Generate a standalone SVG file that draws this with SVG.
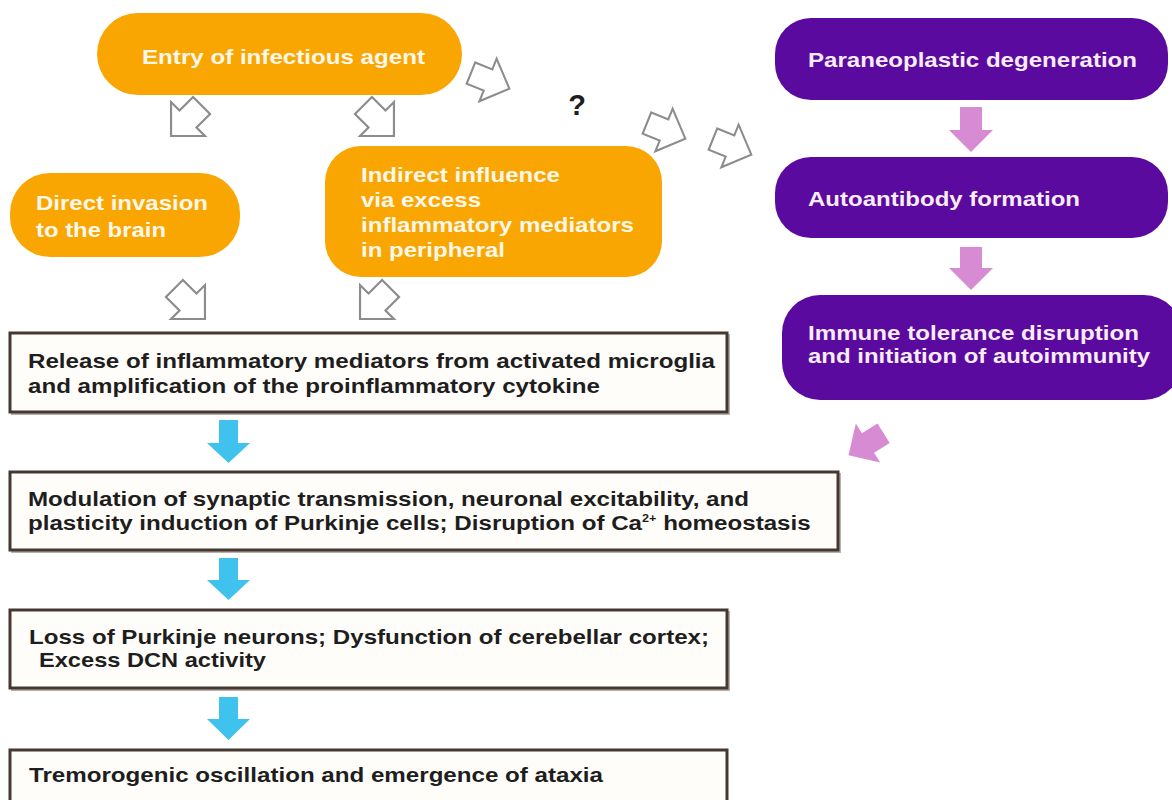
<svg xmlns="http://www.w3.org/2000/svg" xmlns:xlink="http://www.w3.org/1999/xlink" width="1172" height="800" viewBox="0 0 1172 800">
<style>
.t{font-family:"Liberation Sans",Arial,sans-serif;font-weight:bold;font-size:21px}
.q{font-family:"Liberation Sans",Arial,sans-serif;font-weight:bold;font-size:29px;fill:#1e1e1e}
.ow{fill:#fff8ea}
.pw{fill:#f8ecf8}
.dk{fill:#1e1e1e}
.orange{fill:#f9a602}
.purple{fill:#5a0a9e}
.box{fill:#fffdfa;stroke:#453830;stroke-width:3}
.shadow{fill:none;stroke:#b8b0aa;stroke-width:2}
.hollow{fill:#ffffff;stroke:#8c8c8c;stroke-width:1.8;stroke-linejoin:miter}
.pink{fill:#d68bd3}
.blue{fill:#3fc3ee}
</style>
<defs>
<path id="ha" d="M-16,-10 L0,-10 L0,-20 L20,0 L0,20 L0,10 L-16,10 Z"/>
</defs>
<rect width="1172" height="800" fill="#ffffff"/>

<g id="entry">
<rect class="orange" x="97" y="13" width="365" height="82" rx="41"/>
<text class="t ow" x="142" y="64" textLength="283" lengthAdjust="spacingAndGlyphs">Entry of infectious agent</text>
</g>

<g id="direct">
<rect class="orange" x="10" y="173" width="230" height="84" rx="40"/>
<text class="t ow" x="36" y="210" textLength="172" lengthAdjust="spacingAndGlyphs">Direct invasion</text>
<text class="t ow" x="36" y="237" textLength="130" lengthAdjust="spacingAndGlyphs">to the brain</text>
</g>

<g id="indirect">
<rect class="orange" x="325" y="146" width="337" height="131" rx="36"/>
<text class="t ow" x="361" y="182" textLength="199" lengthAdjust="spacingAndGlyphs">Indirect influence</text>
<text class="t ow" x="361" y="207" textLength="120" lengthAdjust="spacingAndGlyphs">via excess</text>
<text class="t ow" x="361" y="232" textLength="273" lengthAdjust="spacingAndGlyphs">inflammatory mediators</text>
<text class="t ow" x="361" y="257" textLength="144" lengthAdjust="spacingAndGlyphs">in peripheral</text>
</g>

<g id="paraneoplastic">
<rect class="purple" x="775" y="18" width="393" height="82" rx="36"/>
<text class="t pw" x="808" y="67" textLength="329" lengthAdjust="spacingAndGlyphs">Paraneoplastic degeneration</text>
</g>

<g id="autoantibody">
<rect class="purple" x="775" y="157" width="393" height="81" rx="36"/>
<text class="t pw" x="808" y="206" textLength="272" lengthAdjust="spacingAndGlyphs">Autoantibody formation</text>
</g>

<g id="immune">
<rect class="purple" x="782" y="295" width="400" height="105" rx="38"/>
<text class="t pw" x="808" y="340" textLength="331" lengthAdjust="spacingAndGlyphs">Immune tolerance disruption</text>
<text class="t pw" x="808" y="363" textLength="342" lengthAdjust="spacingAndGlyphs">and initiation of autoimmunity</text>
</g>

<g id="release">
<rect class="shadow" x="12" y="335" width="717" height="79"/>
<rect class="box" x="10" y="333" width="717" height="79"/>
<text class="t dk" x="28" y="368" textLength="687" lengthAdjust="spacingAndGlyphs">Release of inflammatory mediators from activated microglia</text>
<text class="t dk" x="28" y="393" textLength="572" lengthAdjust="spacingAndGlyphs">and amplification of the proinflammatory cytokine</text>
</g>

<g id="modulation">
<rect class="shadow" x="12" y="474" width="828" height="78"/>
<rect class="box" x="10" y="472" width="828" height="78"/>
<text class="t dk" x="28" y="506" textLength="721" lengthAdjust="spacingAndGlyphs">Modulation of synaptic transmission, neuronal excitability, and</text>
<text class="t dk" transform="translate(28,530) scale(1.15,1)" x="0" y="0">plasticity induction of Purkinje cells; Disruption of Ca<tspan font-size="11" dy="-8">2+</tspan><tspan dy="8"> homeostasis</tspan></text>
</g>

<g id="loss">
<rect class="shadow" x="12" y="612" width="717" height="78"/>
<rect class="box" x="10" y="610" width="717" height="78"/>
<text class="t dk" x="29" y="644" textLength="680" lengthAdjust="spacingAndGlyphs">Loss of Purkinje neurons; Dysfunction of cerebellar cortex;</text>
<text class="t dk" x="39" y="667" textLength="227" lengthAdjust="spacingAndGlyphs">Excess DCN activity</text>
</g>

<g id="tremor">
<rect class="box" x="10" y="750" width="717" height="70"/>
<text class="t dk" x="29" y="782" textLength="574" lengthAdjust="spacingAndGlyphs">Tremorogenic oscillation and emergence of ataxia</text>
</g>

<g id="question">
<text class="q" x="577" y="115" text-anchor="middle">?</text>
</g>

<g id="connectors">
<use xlink:href="#ha" href="#ha" class="hollow" transform="translate(188,119) rotate(135) scale(1.2)"/>
<use xlink:href="#ha" href="#ha" class="hollow" transform="translate(377,119) rotate(45) scale(1.2)"/>
<use xlink:href="#ha" href="#ha" class="hollow" transform="translate(188,302) rotate(45) scale(1.2)"/>
<use xlink:href="#ha" href="#ha" class="hollow" transform="translate(377,302) rotate(135) scale(1.2)"/>
<use xlink:href="#ha" href="#ha" class="hollow" transform="translate(488,80) rotate(22) scale(1.15)"/>
<use xlink:href="#ha" href="#ha" class="hollow" transform="translate(664,130) rotate(22) scale(1.15)"/>
<use xlink:href="#ha" href="#ha" class="hollow" transform="translate(730,146) rotate(22) scale(1.15)"/>
<path class="pink" d="M960,107 L982,107 L982,130 L993,130 L971,152 L949,130 L960,130 Z"/>
<path class="pink" d="M960,247 L982,247 L982,268 L993,268 L971,290 L949,268 L960,268 Z"/>
<use xlink:href="#ha" href="#ha" class="pink" transform="translate(868,443) rotate(148) scale(1.15)"/>
<path class="blue" d="M219,420 L238,420 L238,443 L250,443 L228.5,463 L207,443 L219,443 Z"/>
<path class="blue" d="M219,558 L238,558 L238,580 L250,580 L228.5,600 L207,580 L219,580 Z"/>
<path class="blue" d="M219,697 L238,697 L238,719 L250,719 L228.5,740 L207,719 L219,719 Z"/>
</g>
</svg>
